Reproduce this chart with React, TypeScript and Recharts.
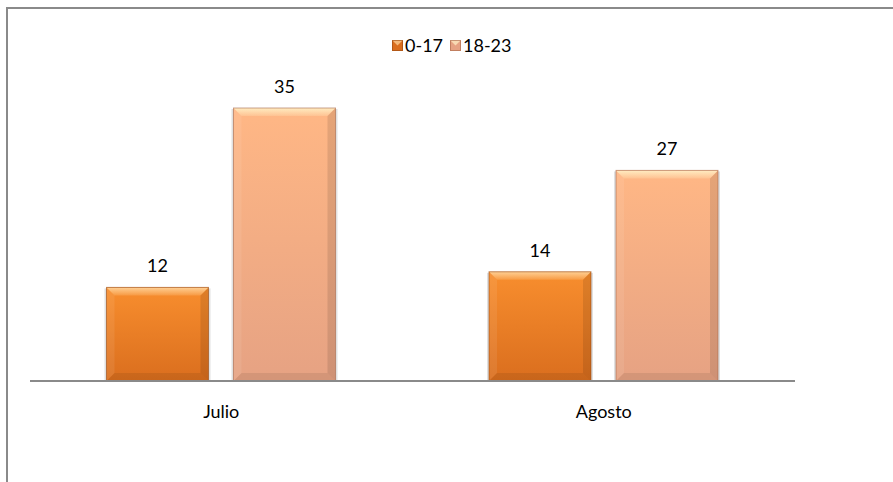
import React from 'react';
import { BarChart, Bar, XAxis, YAxis, LabelList } from 'recharts';

const months = ['Julio', 'Agosto'];
const group017 = [12, 14];
const group1823 = [35, 27];
const seriesNames = ['0-17', '18-23'];

const data = months.map((m, i) => ({ month: m, a: group017[i], b: group1823[i] }));

const FONT = 'Lato, "Open Sans", sans-serif';

const palettes: Record<string, { top: string; bottom: string; light: string; dark: string; id: string }> = {
    a: { top: '#F88E2E', bottom: '#DA6E1E', light: '#FFD7A0', dark: '#9A4A10', id: 'ga' },
    b: { top: '#FFB785', bottom: '#E6A283', light: '#FFF2C8', dark: '#A8674A', id: 'gb' },
};

function BevelBar(props: any) {
    const { x, y, width, height, pal } = props;
    if (!height || height <= 0) return null;
    const p = palettes[pal];
    const b = 8;
    return (
        <g>
            {/* soft shadow */}
            <rect x={x - 2} y={y + 1} width={width + 4} height={height} fill="rgba(0,0,0,0.12)" />
            <rect x={x} y={y} width={width} height={height} fill={`url(#${p.id})`} />
            {/* bevels */}
            <polygon points={`${x},${y} ${x + width},${y} ${x + width - b},${y + b} ${x + b},${y + b}`} fill={`url(#${p.id}-hl)`} />
            <polygon points={`${x},${y} ${x + b},${y + b} ${x + b},${y + height - b} ${x},${y + height}`} fill="rgba(255,255,255,0.08)" />
            <polygon points={`${x + width},${y} ${x + width - b},${y + b} ${x + width - b},${y + height - b} ${x + width},${y + height}`} fill="rgba(0,0,0,0.1)" />
            <polygon points={`${x},${y + height} ${x + b},${y + height - b} ${x + width - b},${y + height - b} ${x + width},${y + height}`} fill="rgba(0,0,0,0.08)" />
            <rect x={x} y={y} width={width} height={height} fill="none" stroke={p.dark} strokeOpacity={0.6} strokeWidth={1} />
        </g>
    );
}

function ChartLegend() {
    const keys = ['a', 'b'];
    return (
        <div style={{ position: 'absolute', left: 392, top: 34, display: 'flex', gap: 7, fontFamily: FONT, fontSize: 18, color: '#000', lineHeight: '22px' }}>
            {keys.map((k, i) => (
                <div key={k} style={{ display: 'flex', alignItems: 'center', gap: 2 }}>
                    <svg width={11} height={11}>
                        <rect x={0} y={0} width={11} height={11} fill={palettes[k].bottom} />
                        <polygon points="0,0 11,0 5.5,5.5" fill={palettes[k].light} opacity={0.7} />
                        <rect x={0.5} y={0.5} width={10} height={10} fill="none" stroke={palettes[k].dark} strokeOpacity={0.6} />
                    </svg>
                    <span>{seriesNames[i]}</span>
                </div>
            ))}
        </div>
    );
}

export default function App() {
    const labelStyle = { fill: '#000', fontFamily: FONT, fontSize: 18 };
    return (
        <div style={{ position: 'absolute', left: 0, top: 0, width: 893, height: 482, overflow: 'hidden', background: '#fff' }}>
            <div style={{ position: 'absolute', left: 6, top: 7, width: 1000, height: 1000, border: '2px solid #8a8a8a' }} />
            <div style={{ position: 'absolute', left: 0, top: 0 }}>
                <BarChart
                    width={893}
                    height={482}
                    data={data}
                    margin={{ top: 69, right: 98, bottom: 71, left: 30 }}
                    barCategoryGap="20%"
                    barGap={25}
                >
                    <defs>
                        {Object.values(palettes).map((p) => (
                            <React.Fragment key={p.id}>
                                <linearGradient id={p.id} x1="0" y1="0" x2="0" y2="1">
                                    <stop offset="0%" stopColor={p.top} />
                                    <stop offset="100%" stopColor={p.bottom} />
                                </linearGradient>
                                <linearGradient id={`${p.id}-hl`} x1="0" y1="0" x2="0" y2="1">
                                    <stop offset="0%" stopColor={p.light} stopOpacity={0.9} />
                                    <stop offset="100%" stopColor={p.light} stopOpacity={0.2} />
                                </linearGradient>
                            </React.Fragment>
                        ))}
                    </defs>
                    <XAxis
                        dataKey="month"
                        height={30}
                        axisLine={{ stroke: '#8a8a8a', strokeWidth: 2 }}
                        tickLine={false}
                        tickMargin={18}
                        tick={{ fill: '#000', fontFamily: FONT, fontSize: 18 }}
                    />
                    <YAxis hide domain={[0, 40]} />
                    <Bar dataKey="a" isAnimationActive={false} shape={(p: any) => <BevelBar {...p} pal="a" />}>
                        <LabelList dataKey="a" position="top" offset={15} style={labelStyle} />
                    </Bar>
                    <Bar dataKey="b" isAnimationActive={false} shape={(p: any) => <BevelBar {...p} pal="b" />}>
                        <LabelList dataKey="b" position="top" offset={15} style={labelStyle} />
                    </Bar>
                </BarChart>
            </div>
            <ChartLegend />
        </div>
    );
}
